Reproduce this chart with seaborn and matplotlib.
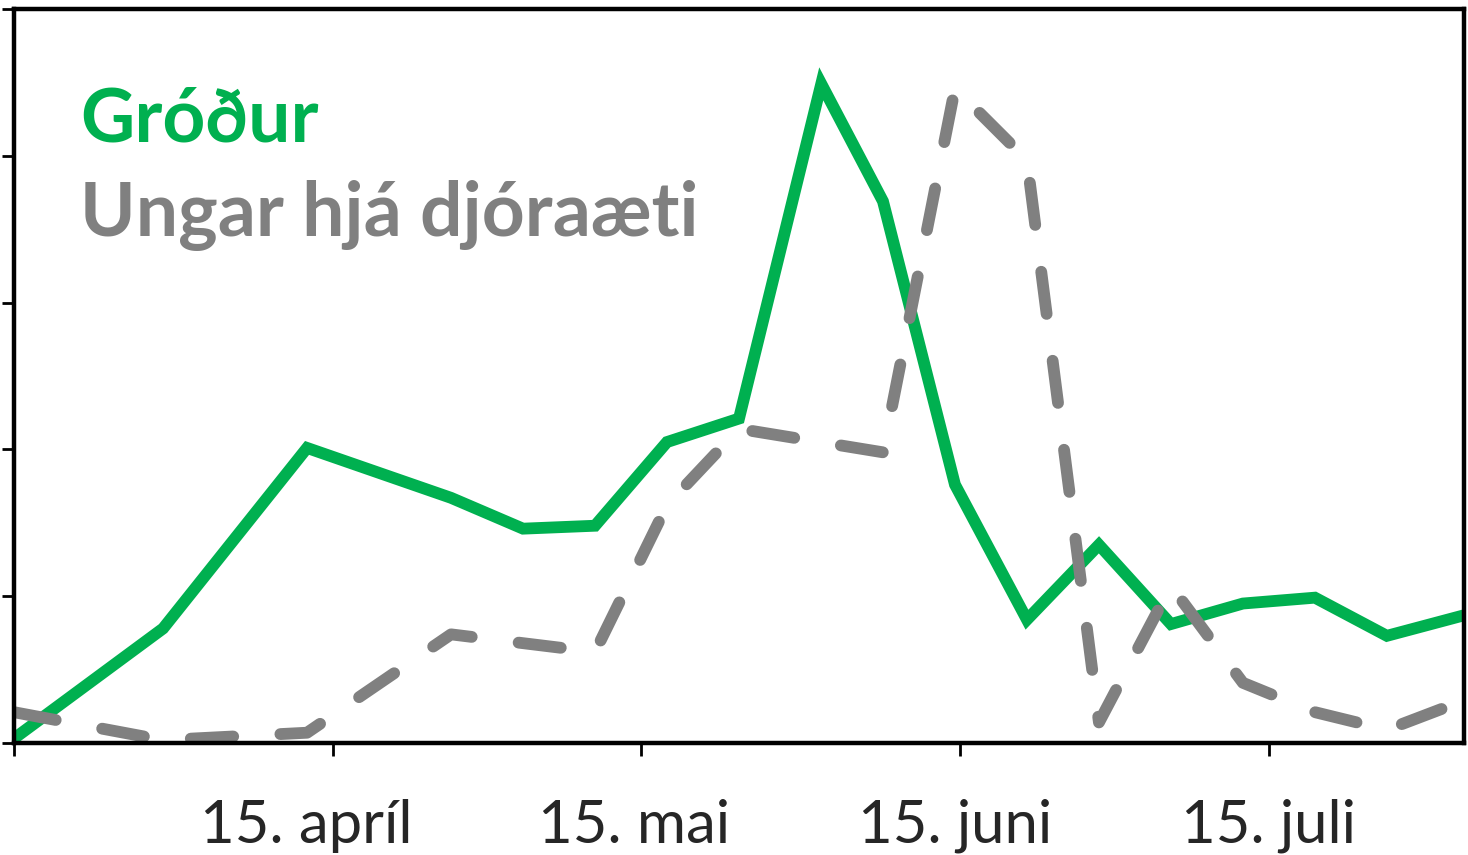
import matplotlib
matplotlib.use("Agg")
import matplotlib.pyplot as plt
from matplotlib.transforms import ScaledTranslation
import numpy as np
import pandas as pd
import seaborn as sns

# day of year (15. april = 105, 15. mai = 135, 15. juni = 166, 15. juli = 196)
groadur_day = [74, 88.5, 102.5, 116.5, 123.5, 130.5, 137.5, 144.5, 152.5, 158.5,
               165.5, 172.5, 179.5, 186.5, 193.5, 200.5, 207.5, 215]
groadur_val = [0.03, 0.78, 2.01, 1.67, 1.46, 1.48, 2.05, 2.21, 4.49, 3.69,
               1.76, 0.84, 1.35, 0.81, 0.95, 0.99, 0.73, 0.87]

ungar_day = [74, 88.5, 102.5, 116.5, 130.5, 137.5, 144.5, 151.5, 158.5,
             165.5, 172.5, 179.5, 186.5, 193.5, 200.5, 207.5, 215]
ungar_val = [0.21, 0.02, 0.07, 0.74, 0.62, 1.62, 2.14, 2.06, 1.98,
             4.46, 3.97, 0.14, 1.07, 0.41, 0.21, 0.09, 0.29]

tick_days = [74, 105, 135, 166, 196]
tick_labels = ["", "15. apríl", "15. mai", "15. juni", "15. juli"]
label_shift_px = [0, -27, -7, -5, 0]   # excel puts the labels a bit left

green = "#00B050"
grey = "#808080"

sns.set_theme(style="white")
plt.rcParams["font.family"] = ["Lato", "DejaVu Sans"]

fig = plt.figure(figsize=(14.68, 8.55), dpi=100)
ax = fig.add_axes([0.0095, 0.131, 0.9878, 0.8585])

sns.lineplot(x=groadur_day, y=groadur_val, color=green, lw=8.5,
             solid_capstyle="round", solid_joinstyle="miter", ax=ax)
sns.lineplot(x=ungar_day, y=ungar_val, color=grey, lw=8.5, ax=ax)
dash_line = ax.lines[-1]
dash_line.set_linestyle((0, (3.6, 4.0)))
dash_line.set_dash_capstyle("round")
dash_line.set_dash_joinstyle("round")

ax.set_xlim(74, 215)
ax.set_ylim(0, 5)
ax.set_xticks(tick_days)
ax.set_xticklabels(tick_labels, fontsize=43)
ax.set_yticks(range(6))
ax.set_yticklabels([])
ax.tick_params(axis="both", direction="out", length=9, width=2, color="black",
               bottom=True, left=True)
ax.tick_params(axis="x", pad=31)
for lab, dx in zip(ax.get_xticklabels(), label_shift_px):
    lab.set_transform(lab.get_transform() + ScaledTranslation(dx / 100, 0, fig.dpi_scale_trans))
for s in ax.spines.values():
    s.set_color("black")
    s.set_linewidth(3.2)
ax.set_xlabel(""); ax.set_ylabel("")

ax.text(0.0455, 0.820, "Gróður", transform=ax.transAxes, color=green,
        fontsize=54, fontweight="bold", va="baseline")
ax.text(0.0455, 0.691, "Ungar hjá djóraæti", transform=ax.transAxes, color=grey,
        fontsize=54, fontweight="bold", va="baseline")

fig.savefig("out.png", dpi=100)
